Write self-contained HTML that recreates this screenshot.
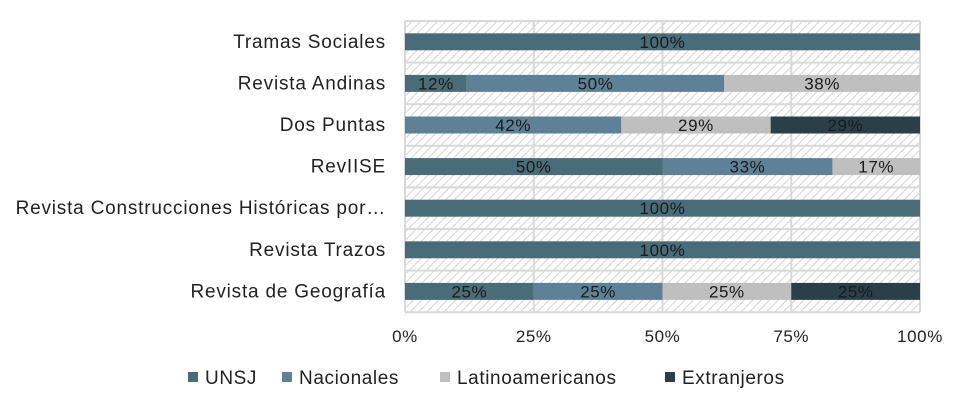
<!DOCTYPE html>
<html><head><meta charset="utf-8"><style>
body{margin:0;background:#fff;width:967px;height:409px;overflow:hidden;font-family:"Liberation Sans",sans-serif}
</style></head><body>
<svg id="chart" width="967" height="409" xmlns="http://www.w3.org/2000/svg" font-family="Liberation Sans, sans-serif">
<defs>
<pattern id="hatch" width="6" height="6" patternUnits="userSpaceOnUse" patternTransform="rotate(45)">
<rect width="6" height="6" fill="#fff"/><line x1="0" y1="0" x2="0" y2="6" stroke="#d4d4d4" stroke-width="2"/>
</pattern>
</defs>
<g id="plot"></g>
</svg>
<script>
const categories=["Tramas Sociales","Revista Andinas ","Dos Puntas","RevIISE","Revista Construcciones Históricas por…","Revista Trazos","Revista de Geografía"];
const seriesNames=["UNSJ","Nacionales","Latinoamericanos","Extranjeros"];
const unsj=[100,12,0,50,100,100,25];
const nacionales=[0,50,42,33,0,0,25];
const latino=[0,38,29,17,0,0,25];
const extranjeros=[0,0,29,0,0,0,25];
const ticks=["0%","25%","50%","75%","100%"];
const colors=["#4a6b78","#5e8197","#bfbfbf","#2b3f48"];
const series=[unsj,nacionales,latino,extranjeros];
const NS="http://www.w3.org/2000/svg";
const g=document.getElementById("plot");
const x0=405,x1=920,yTop=21,band=41.6,barH=17;
const xs=v=>x0+(x1-x0)*v/100;
const yc=i=>yTop+band*(i+0.5);
function el(t,a){const e=document.createElementNS(NS,t);for(const k in a)e.setAttribute(k,a[k]);g.appendChild(e);return e;}
const bg=el("rect",{x:x0,y:yTop,width:x1-x0,height:band*categories.length,fill:"url(#hatch)"});


for(let i=0;i<=categories.length;i++){const l=el("line",{x1:x0,x2:x1,y1:yTop+band*i,y2:yTop+band*i,stroke:"#d9d9d9","stroke-width":2});

}
ticks.forEach((t,i)=>{const x=xs(i*25);
const l=el("line",{x1:x,x2:x,y1:yTop,y2:yTop+band*categories.length,stroke:"#d9d9d9","stroke-width":2});


const tx=el("text",{x:x,y:342,"text-anchor":"middle","font-size":17,"letter-spacing":0.6,fill:"#222"});tx.textContent=t;

});
categories.forEach((c,i)=>{const y=yc(i);
const lab=el("text",{x:386,y:y+6,"text-anchor":"end","font-size":19,"letter-spacing":0.8,fill:"#222"});lab.textContent=c;


let acc=0;
series.forEach((s,k)=>{const v=s[i];if(!v)return;
const r=el("rect",{x:xs(acc),y:y-barH/2,width:xs(acc+v)-xs(acc),height:barH,fill:colors[k]});


const t=el("text",{x:(xs(acc)+xs(acc+v))/2,y:y+6,"text-anchor":"middle","font-size":17,"letter-spacing":0.6,fill:"#1a1a1a"});t.textContent=v+"%";


acc+=v;});});
const legX=[188,282,440,665];
seriesNames.forEach((n,k)=>{
const r=el("rect",{x:legX[k],y:372,width:10,height:10,fill:colors[k]});


const t=el("text",{x:legX[k]+17,y:384,"font-size":19,"letter-spacing":0.6,fill:"#222"});t.textContent=n;

});
</script>
</body></html>
